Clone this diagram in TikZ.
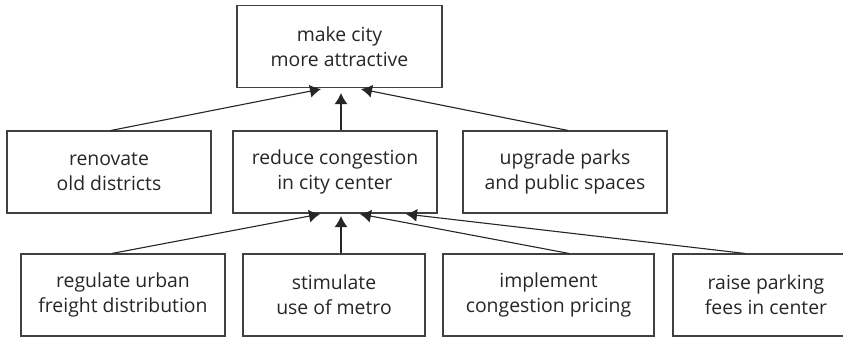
\documentclass[tikz,border=0pt]{standalone}
\usepackage{fontspec}
\setmainfont{Open Sans}
\usetikzlibrary{arrows.meta}
\usetikzlibrary{calc}

\tikzset{
	goal/.style={draw=black!75, line width=0.55pt, inner sep=0pt, minimum height=41pt,
		align=center, text=black!85, font=\fontsize{9.7}{12.5}\selectfont},
	link/.style={draw=black!85, line width=0.55pt, -{Latex[length=5.5pt,width=6.5pt]}}
}

\begin{document}
\begin{tikzpicture}[x=0.5pt,y=-0.5pt]
	\useasboundingbox (0,0) rectangle (843,337);
	\node[goal, minimum width=102.5pt] (city) at (339.5,46.5){make city\\more attractive};%top
	\node[goal, minimum width=102pt] (renov) at (109,172){renovate\\old districts};%1
	\node[goal, minimum width=102pt] (congest) at (335,172){reduce congestion\\in city center};%2
	\node[goal, minimum width=102pt] (parks) at (565,172){upgrade parks\\and public spaces};%3
	\node[goal, minimum width=102pt] (freight) at (123,295){regulate urban\\freight distribution};%4
	\node[goal, minimum width=91pt] (metro) at (334,295){stimulate\\use of metro};%5
	\node[goal, minimum width=105.5pt] (pricing) at (548.5,295){implement\\congestion pricing};%6
	\node[goal, minimum width=93pt] (parking) at (766,295){raise parking\\fees in center};%7
	\draw[link] ($(renov.north)+(2,0)$) -- ($(city.south)+(-18.5,1)$);
	\draw[link] ($(congest.north)+(6,0)$) -- ($(city.south)+(1.5,5)$);
	\draw[link] ($(parks.north)+(3,0)$) -- ($(city.south)+(21.5,1)$);
	\draw[link] ($(freight.north)+(-11,0)$) -- ($(congest.south)+(-15,0.5)$);
	\draw[link] ($(metro.north)+(7,0)$) -- ($(congest.south)+(6,2.5)$);
	\draw[link] ($(pricing.north)+(20.5,0)$) -- ($(congest.south)+(25,0.5)$);
	\draw[link] ($(parking.north)+(-21,0)$) -- ($(congest.south)+(71,0.5)$);
\end{tikzpicture}
\end{document}
